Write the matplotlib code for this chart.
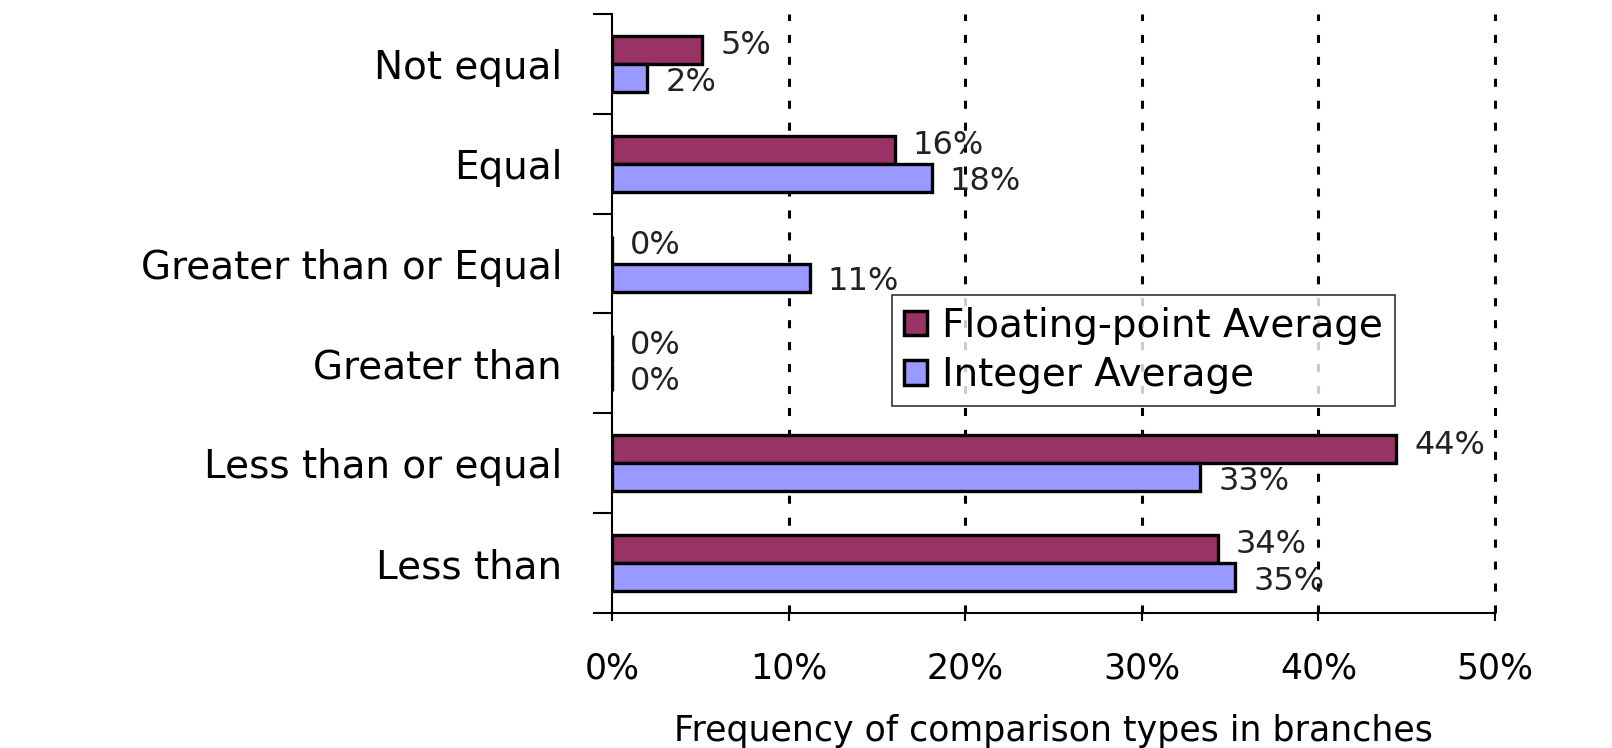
import numpy as np
import matplotlib.pyplot as plt

plt.rcParams['font.family'] = ['DejaVu Sans']
plt.rcParams['lines.scale_dashes'] = False

# categories from top to bottom
categories = ['Not equal', 'Equal', 'Greater than or Equal', 'Greater than',
              'Less than or equal', 'Less than']
fp_values = [5.1, 16.0, 0.0, 0.0, 44.4, 34.3]
int_values = [2.0, 18.1, 11.2, 0.0, 33.3, 35.3]
fp_labels = ['5%', '16%', '0%', '0%', '44%', '34%']
int_labels = ['2%', '18%', '11%', '0%', '33%', '35%']
xticks = [0, 10, 20, 30, 40, 50]
xtick_labels = ['0%', '10%', '20%', '30%', '40%', '50%']

fig = plt.figure(figsize=(16.12, 7.48), dpi=100)
ax = fig.add_axes([0.3797, 0.1805, 0.5477, 0.8008])

y = np.arange(len(categories))[::-1]
h = 0.28
fp_bars = ax.barh(y + h / 2, fp_values, height=h, color='#993366', edgecolor='black',
                  linewidth=2.4, label='Floating-point Average', zorder=3)
int_bars = ax.barh(y - h / 2, int_values, height=h, color='#9999ff', edgecolor='black',
                   linewidth=2.4, label='Integer Average', zorder=3)

# labels nudged a little apart so the two rows don't collide
for bars, labels, dy in [(fp_bars, fp_labels, 3), (int_bars, int_labels, -3)]:
    for b, lab in zip(bars, labels):
        ax.annotate(lab, (b.get_width(), b.get_y() + b.get_height() / 2),
                    xytext=(13, dy), textcoords='offset points', ha='left', va='center',
                    fontsize=23, color='#222222', zorder=4)

ax.set_xlim(0, 50)
ax.set_ylim(-0.5, len(categories) - 0.5)
ax.set_xticks(xticks)
ax.set_xticklabels(xtick_labels, fontsize=25)
ax.tick_params(axis='x', direction='out', length=6, width=1.5, pad=22)

ax.set_yticks(np.arange(len(categories) + 1) - 0.5)
ax.set_yticklabels([])
ax.set_yticks(y, minor=True)
ax.set_yticklabels(categories, minor=True, fontsize=28)
ax.tick_params(axis='y', which='major', direction='out', length=14, width=1.5)
ax.tick_params(axis='y', which='minor', length=0, pad=36)

for x in xticks[1:]:
    ax.axvline(x, color='black', linewidth=2.2, linestyle=(0, (5.8, 10)), zorder=1, clip_on=False)

ax.spines['top'].set_visible(False)
ax.spines['right'].set_visible(False)
ax.spines['left'].set_linewidth(1.5)
ax.spines['bottom'].set_linewidth(1.5)
ax.spines['left'].set_zorder(5)

ax.set_xlabel('Frequency of comparison types in branches', fontsize=25, labelpad=20)

leg = ax.legend(loc='upper left', bbox_to_anchor=(0.5533, 0.6056), bbox_transform=fig.transFigure,
                fontsize=28, frameon=True, fancybox=False, handlelength=0.6, handleheight=0.6,
                handletextpad=0.4, borderpad=0.3, labelspacing=0.3, borderaxespad=0)
leg.get_frame().set_edgecolor('black')
leg.get_frame().set_linewidth(1.2)
for p in leg.get_patches():
    p.set_linewidth(2.5)

fig.savefig('out.png', dpi=100)
